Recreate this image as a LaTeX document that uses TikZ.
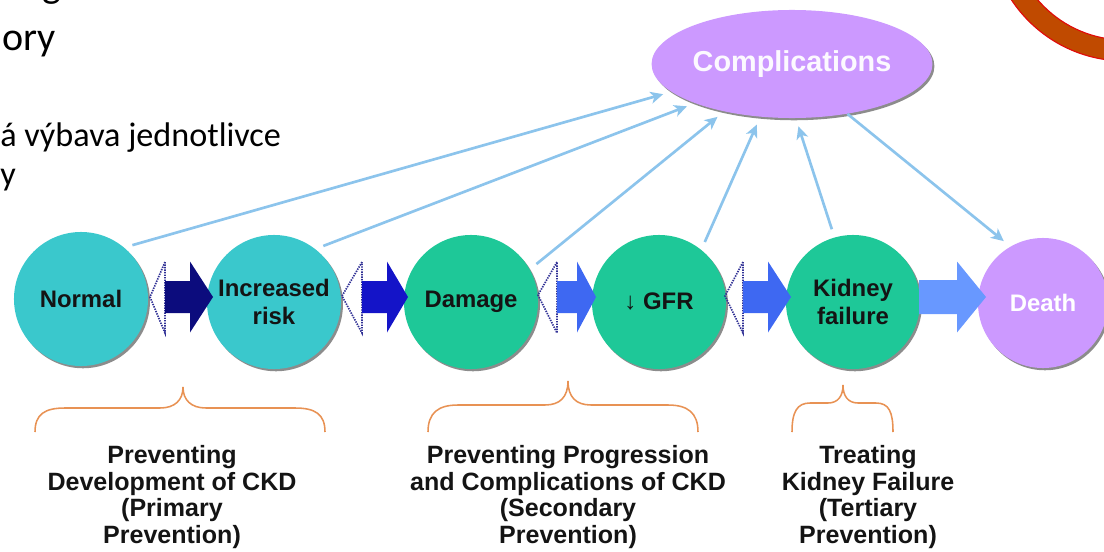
\documentclass[tikz,border=0pt]{standalone}
\usepackage{fontspec}
\setmainfont{Carlito}
\newfontfamily\arialf{Liberation Sans}
\usetikzlibrary{shapes.geometric, arrows.meta, shadows}

\definecolor{teal1}{RGB}{58,200,204}
\definecolor{green1}{RGB}{30,200,152}
\definecolor{lav}{RGB}{204,153,255}
\definecolor{lineblue}{RGB}{140,196,236}
\definecolor{braceor}{RGB}{232,146,84}
\definecolor{ringfill}{RGB}{192,74,0}
\definecolor{ringline}{RGB}{225,10,10}
\definecolor{navy1}{RGB}{12,12,125}
\definecolor{blue2}{RGB}{20,20,200}
\definecolor{blue3}{RGB}{62,104,242}
\definecolor{blue4}{RGB}{104,152,255}
\definecolor{dotc}{RGB}{50,50,150}

\newcommand\blkarrow[6]{%
  \fill[#4] (#1,{297-#5}) -- (#2,{297-#5}) -- (#2,{297-#6}) -- (#3,297)
    -- (#2,{297+#6}) -- (#2,{297+#5}) -- (#1,{297+#5}) -- cycle;}

\begin{document}
\begin{tikzpicture}[x=0.025cm, y=-0.025cm,
  myshadow/.style={drop shadow={shadow xshift=1.4pt, shadow yshift=-1.6pt, opacity=0.75, fill=black!60}},
  circ/.style={circle, minimum size=3.35cm, inner sep=0pt, align=center,
    font=\arialf\bfseries\fontsize{17}{20}\selectfont, text=black!92, myshadow},
  link/.style={draw=lineblue, line width=1.9pt, -{Stealth[length=9pt,width=8.5pt,inset=2.5pt]},
    shorten <=6pt, shorten >=6pt},
  dotshape/.style={draw=dotc, line width=1.2pt, dash pattern=on 1pt off 0.8pt},
  bracepath/.style={draw=braceor, line width=1.1pt},
  bottomlabel/.style={font=\arialf\bfseries\fontsize{17.8}{18.9}\selectfont, align=center,
    inner sep=0pt, anchor=north, text=black!92},
  bigtext/.style={anchor=base west, inner sep=0pt, font=\fontsize{28.5}{30}\selectfont},
  midtext/.style={anchor=base west, inner sep=0pt, font=\fontsize{24.3}{28}\selectfont}
]
\useasboundingbox (0,0) rectangle (1104,552);
\clip (0,0) rectangle (1104,552);

% slide text on the left
\node[bigtext] (t0) at (42,-3) {g};
\node[bigtext] (t1) at (2,50) {ory};
\node[midtext] (t2) at (0,146) {á výbava jednotlivce};
\node[midtext] (t3) at (0,185) {y};

% ring at top right
\fill[ringfill, even odd rule] (1125,-75) circle[radius=136] (1125,-75) circle[radius=115];
\draw[ringline, line width=0.8pt] (1125,-75) circle[radius=136] (1125,-75) circle[radius=115];

% stage circles
\node[circ, fill=teal1] (normal) at (81,299) {Normal};
\node[circ, fill=teal1] (inc) at (274,302) {Increased\\risk};
\node[circ, fill=green1] (dam) at (471,302) {Damage};
\node[circ, fill=green1] (gfr) at (659,302) {↓ GFR};
\node[circ, fill=green1] (kid) at (853,302) {Kidney\\failure};
\node[circ, fill=lav, text=white, minimum size=3.25cm] (death) at (1043,303) {Death};
\node[ellipse, fill=lav, minimum width=5.5cm, minimum height=2.7cm, inner sep=0pt,
  font=\arialf\bfseries\fontsize{20.5}{24}\selectfont, text=white!94!lav, myshadow] (comp) at (792,64) {Complications};

% dotted reverse heads
\draw[dotshape] (165,262) -- (150,297) -- (165,333) -- cycle;
\draw[dotshape] (362,262) -- (342,296) -- (362,333) -- cycle;
\draw[dotshape] (557,262) -- (538,295) -- (557,333) -- cycle;
\draw[dotshape] (743,262) -- (725,296) -- (743,333) -- cycle;

% block arrows
\blkarrow{165}{190}{213}{navy1}{16}{35.5}
\blkarrow{362}{387}{408}{blue2}{16}{35.5}
\blkarrow{557}{577}{596}{blue3}{16}{35.5}
\blkarrow{743}{768}{791}{blue3}{16}{35.5}
\blkarrow{919}{957}{986}{blue4}{17}{35.5}

% links to complications
\draw[link] (normal.50) -- (comp.193);
\draw[link] (inc.52) -- (comp.202);
\draw[link] (dam.29) -- (comp.215);
\draw[link] (gfr.51) -- (comp.239);
\draw[link] (kid.106) -- (comp.274);
\draw[link, shorten <=0pt] (comp.-42) -- (death.120);

% braces
\draw[bracepath] (35,432) .. controls (35,414) and (45,408) .. (65,408) -- (160,408)
  .. controls (175,408) and (183,400) .. (183,387) .. controls (183,400) and (191,408) .. (206,408)
  -- (295,408) .. controls (315,408) and (325,414) .. (325,432);
\draw[bracepath] (428,432) .. controls (428,413) and (438,405) .. (458,405) -- (545,405)
  .. controls (560,405) and (568,397) .. (568,381) .. controls (568,397) and (576,405) .. (591,405)
  -- (668,405) .. controls (688,405) and (698,413) .. (698,432);
\draw[bracepath] (792,432) .. controls (792,412) and (797,403) .. (810,403) -- (828,403)
  .. controls (838,403) and (843,396) .. (843,385) .. controls (843,396) and (848,403) .. (858,403)
  -- (876,403) .. controls (889,403) and (893,412) .. (893,432);

% bottom labels
\node[bottomlabel] (p1) at (172,445) {Preventing\\Development of CKD\\(Primary\\Prevention)};
\node[bottomlabel] (p2) at (568,445) {Preventing Progression\\and Complications of CKD\\(Secondary\\Prevention)};
\node[bottomlabel] (p3) at (868,445) {Treating\\Kidney Failure\\(Tertiary\\Prevention)};
\end{tikzpicture}
\end{document}
